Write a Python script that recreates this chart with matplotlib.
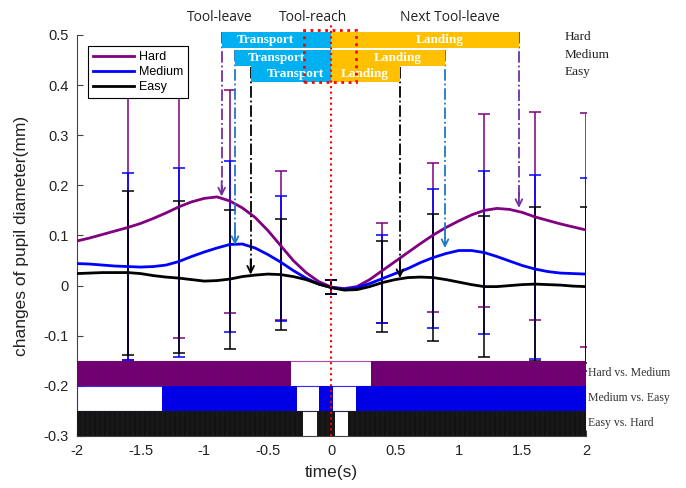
import numpy as np
import matplotlib
matplotlib.use('Agg')
import matplotlib.pyplot as plt

plt.rcParams['axes.unicode_minus'] = False
plt.rcParams['hatch.linewidth'] = 0.4

# time axis (s) and pupil diameter change (mm)
t = np.round(np.arange(-2.0, 2.01, 0.1), 1)
hard = [0.089, 0.095, 0.102, 0.109, 0.116, 0.124, 0.134, 0.145, 0.157, 0.167,
        0.174, 0.177, 0.169, 0.155, 0.136, 0.110, 0.080, 0.050, 0.026, 0.008,
        -0.003, -0.006, -0.002, 0.012, 0.030, 0.048, 0.066, 0.084, 0.101, 0.116,
        0.129, 0.141, 0.150, 0.154, 0.152, 0.146, 0.137, 0.130, 0.123, 0.117, 0.111]
medium = [0.044, 0.043, 0.041, 0.039, 0.038, 0.037, 0.038, 0.041, 0.048, 0.058,
          0.067, 0.075, 0.082, 0.083, 0.075, 0.062, 0.047, 0.030, 0.015, 0.003,
          -0.004, -0.007, -0.004, 0.004, 0.014, 0.024, 0.034, 0.046, 0.056, 0.064,
          0.070, 0.070, 0.066, 0.058, 0.049, 0.040, 0.033, 0.028, 0.025, 0.024, 0.023]
easy = [0.024, 0.025, 0.026, 0.026, 0.026, 0.024, 0.020, 0.017, 0.015, 0.012,
        0.009, 0.010, 0.013, 0.018, 0.021, 0.023, 0.022, 0.018, 0.012, 0.003,
        -0.004, -0.009, -0.008, -0.002, 0.006, 0.012, 0.016, 0.017, 0.016, 0.012,
        0.007, 0.002, -0.002, -0.002, 0.000, 0.002, 0.003, 0.002, 0.001, -0.001, -0.002]

# error bars: top / bottom of each bar
err_t = [-1.6, -1.2, -0.8, -0.4, 0.0, 0.4, 0.8, 1.2, 1.6, 2.0]
hard_hi = [0.38, 0.415, 0.39, 0.229, 0.011, 0.124, 0.244, 0.342, 0.347, 0.345]
hard_lo = [-0.148, -0.104, -0.055, -0.068, -0.017, -0.074, -0.053, -0.042, -0.069, -0.122]
med_hi = [0.225, 0.235, 0.249, 0.179, 0.011, 0.101, 0.193, 0.229, 0.221, 0.214]
med_lo = [-0.149, -0.142, -0.092, -0.071, -0.017, -0.074, -0.084, -0.097, -0.147, -0.17]
easy_hi = [0.189, 0.169, 0.150, 0.133, 0.011, 0.088, 0.143, 0.139, 0.156, 0.157]
easy_lo = [-0.139, -0.135, -0.127, -0.088, -0.017, -0.092, -0.110, -0.143, -0.15, -0.155]

# significant intervals for the pairwise comparisons
comp_names = ['Hard vs. Medium', 'Medium vs. Easy', 'Easy vs. Hard']
comp_segs = [[(-2.0, -0.318), (0.308, 2.0)],
             [(-1.334, -0.274), (-0.096, 0.009), (0.19, 2.0)],
             [(-2.0, -0.222), (-0.116, 0.03), (0.127, 2.0)]]

# phase onsets (Tool-leave, Tool-reach = 0, Next Tool-leave)
levels = ['Hard', 'Medium', 'Easy']
leave = [-0.863, -0.758, -0.635]
next_leave = [1.473, 0.892, 0.538]
tip_left = [0.178, 0.081, 0.022]
tip_right = [0.155, 0.075, 0.015]

c_hard, c_med, c_easy = '#800080', '#0000ff', 'black'
arrow_cols = ['#7030a0', '#1f78c8', 'black']

fig = plt.figure(figsize=(6.86, 4.88), dpi=100)
ax = fig.add_axes([0.1122, 0.1066, 0.742, 0.8217])

# error bars (hard first so easy sits on top)
for y, hi, lo, c in [(hard, hard_hi, hard_lo, c_hard), (medium, med_hi, med_lo, c_med),
                     (easy, easy_hi, easy_lo, c_easy)]:
    idx = [int(round((e + 2) * 10)) for e in err_t]
    yc = np.array(y)[idx]
    ax.errorbar(err_t, yc, yerr=[yc - np.array(lo), np.array(hi) - yc], fmt='none',
                ecolor=c, elinewidth=1.1, capsize=4.5, capthick=1.1, zorder=2)

ax.plot(t, hard, color=c_hard, lw=2, label='Hard', zorder=3)
ax.plot(t, medium, color=c_med, lw=2, label='Medium', zorder=3)
ax.plot(t, easy, color=c_easy, lw=2, label='Easy', zorder=3)

# comparison strips at the bottom
rows = [-0.175, -0.225, -0.275]
row_cols = [c_hard, c_med, c_easy]
hatch_cols = ['#6a006a', '#0000d8', '#222222']
for yr, segs, c, hc, name in zip(rows, comp_segs, row_cols, hatch_cols, comp_names):
    ax.barh(yr, 4.0, left=-2.0, height=0.05, color='white', edgecolor=c,
            linewidth=0.8, alpha=0.7, zorder=4)
    for a, b in segs:
        ax.barh(yr, b - a, left=a, height=0.05, color=c, edgecolor=hc,
                linewidth=0, hatch='|' * 20, zorder=5)
    ax.text(2.015, yr, name, fontsize=8.5, family='Liberation Serif',
            va='center', ha='left', color='#333333')

# transport / landing bars
bar_y = [0.490, 0.4545, 0.422]
tr_text_x = [-0.52, -0.43, -0.287]
la_text_x = [0.853, 0.523, 0.263]
for i in range(3):
    ax.barh(bar_y[i], 0 - leave[i], left=leave[i], height=0.031, color='#00b0f0',
            zorder=6, clip_on=False)
    ax.barh(bar_y[i], next_leave[i], left=0, height=0.031, color='#ffc000',
            zorder=6, clip_on=False)
    ax.text(tr_text_x[i], bar_y[i], 'Transport', color='white', fontsize=9.5,
            fontweight='bold', family='Liberation Serif', ha='center', va='center',
            zorder=7, clip_on=False)
    ax.text(la_text_x[i], bar_y[i], 'Landing', color='white', fontsize=9.5,
            fontweight='bold', family='Liberation Serif', ha='center', va='center',
            zorder=7, clip_on=False)
    ax.text(1.835, bar_y[i] + 0.005, levels[i], fontsize=9.5,
            family='Liberation Serif', ha='left', va='center', color='#222222')

    # dash-dot drop lines with open arrowheads
    for xa, tip in [(leave[i], tip_left[i]), (next_leave[i], tip_right[i])]:
        ax.plot([xa, xa], [bar_y[i] + 0.015, tip + 0.008], ls='-.', lw=1.3,
                color=arrow_cols[i], zorder=5.5, clip_on=False)
        ax.annotate('', xy=(xa, tip), xytext=(xa, tip + 0.03),
                    arrowprops=dict(arrowstyle='->', color=arrow_cols[i], lw=1.3,
                                    mutation_scale=12, shrinkA=0, shrinkB=0),
                    zorder=5.5)

# red dotted reference line and box around tool-reach
ax.plot([0, 0], [-0.3, 0.522], ls=':', color='red', lw=1.5, zorder=8, clip_on=False)
ax.add_patch(plt.Rectangle((-0.216, 0.407), 0.406, 0.103, fill=False, ec='red',
                           ls=':', lw=2, zorder=8, clip_on=False))

for s, xs in [('Tool-leave', -0.876), ('Tool-reach', -0.145), ('Next Tool-leave', 0.93)]:
    ax.text(xs, 0.535, s, fontsize=10, family='Open Sans', ha='center', va='center',
            color='#222222')

ax.set_xlim(-2, 2)
ax.set_ylim(-0.3, 0.5)
ax.set_xticks([-2, -1.5, -1, -0.5, 0, 0.5, 1, 1.5, 2])
ax.set_xticklabels(['-2', '-1.5', '-1', '-0.5', '0', '0.5', '1', '1.5', '2'])
ax.set_yticks(np.round(np.arange(-0.3, 0.51, 0.1), 1))
ax.set_yticklabels(['-0.3', '-0.2', '-0.1', '0', '0.1', '0.2', '0.3', '0.4', '0.5'])
for sp in ['top', 'right']:
    ax.spines[sp].set_visible(False)
for sp in ['left', 'bottom']:
    ax.spines[sp].set_color('#444444')
    ax.spines[sp].set_linewidth(0.8)
ax.tick_params(direction='in', length=4, color='#444444', labelsize=10.5,
               labelcolor='#222222', pad=6)
for lab in ax.get_xticklabels() + ax.get_yticklabels():
    lab.set_family('Liberation Sans')

ax.set_xlabel('time(s)', fontsize=12.5, family='Liberation Sans', color='#222222', labelpad=5)
ax.set_ylabel('changes of pupil diameter(mm)', fontsize=12.5, family='Liberation Sans',
              color='#222222', labelpad=10)

leg = ax.legend(loc='upper left', bbox_to_anchor=(0.021, 0.972), borderaxespad=0,
                fancybox=False, edgecolor='black', framealpha=1, handlelength=3.3,
                prop={'family': 'Liberation Sans', 'size': 9}, labelspacing=0.25,
                borderpad=0.4, handletextpad=0.4)
leg.get_frame().set_linewidth(0.8)
leg.set_zorder(9)

fig.savefig('out.png', dpi=100)
